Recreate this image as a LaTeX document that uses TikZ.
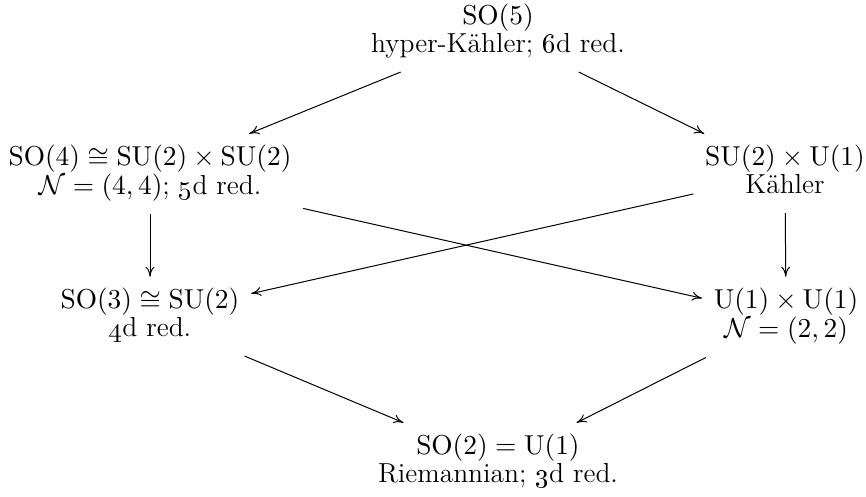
\documentclass[tikz,border=0pt]{standalone}
\usepackage{amsmath,amssymb}
\usetikzlibrary{arrows.meta}
\begin{document}
\begin{tikzpicture}[x=0.4pt,y=-0.4pt,
  cell/.style={anchor=base, inner sep=4.5pt, font=\fontsize{11}{10.8}\selectfont},
  arr/.style={-{Computer Modern Rightarrow[length=4pt,width=3.6pt]}, line width=0.4pt}]
\useasboundingbox (0,0) rectangle (866,497);
\node[cell] (top) at (498,25) {\begin{tabular}[t]{@{}c@{}}$\mathrm{SO}(5)$\\ hyper-Kähler; \oldstylenums{6}d red.\end{tabular}};
\node[cell] (l2) at (150,166) {\begin{tabular}[t]{@{}c@{}}$\mathrm{SO}(4)\cong\mathrm{SU}(2)\times\mathrm{SU}(2)$\\ $\mathcal{N}=(4,4)$; \oldstylenums{5}d red.\end{tabular}};
\node[cell] (r2) at (785,166) {\begin{tabular}[t]{@{}c@{}}$\mathrm{SU}(2)\times\mathrm{U}(1)$\\ Kähler\end{tabular}};
\node[cell] (l3) at (150,309) {\begin{tabular}[t]{@{}c@{}}$\mathrm{SO}(3)\cong\mathrm{SU}(2)$\\ \oldstylenums{4}d red.\end{tabular}};
\node[cell] (r3) at (786,309) {\begin{tabular}[t]{@{}c@{}}$\mathrm{U}(1)\times\mathrm{U}(1)$\\ $\mathcal{N}=(2,2)$\end{tabular}};
\node[cell] (bot) at (498,455) {\begin{tabular}[t]{@{}c@{}}$\mathrm{SO}(2)=\mathrm{U}(1)$\\ Riemannian; \oldstylenums{3}d red.\end{tabular}};
\draw[arr] (top) -- (l2);
\draw[arr] (top) -- (r2);
\draw[arr] (l2) -- (l3);
\draw[arr] (r2) -- (r3);
\draw[arr] (l2) -- (r3);
\draw[arr] (r2) -- (l3);
\draw[arr] (l3) -- (bot);
\draw[arr] (r3) -- (bot);
\end{tikzpicture}
\end{document}
